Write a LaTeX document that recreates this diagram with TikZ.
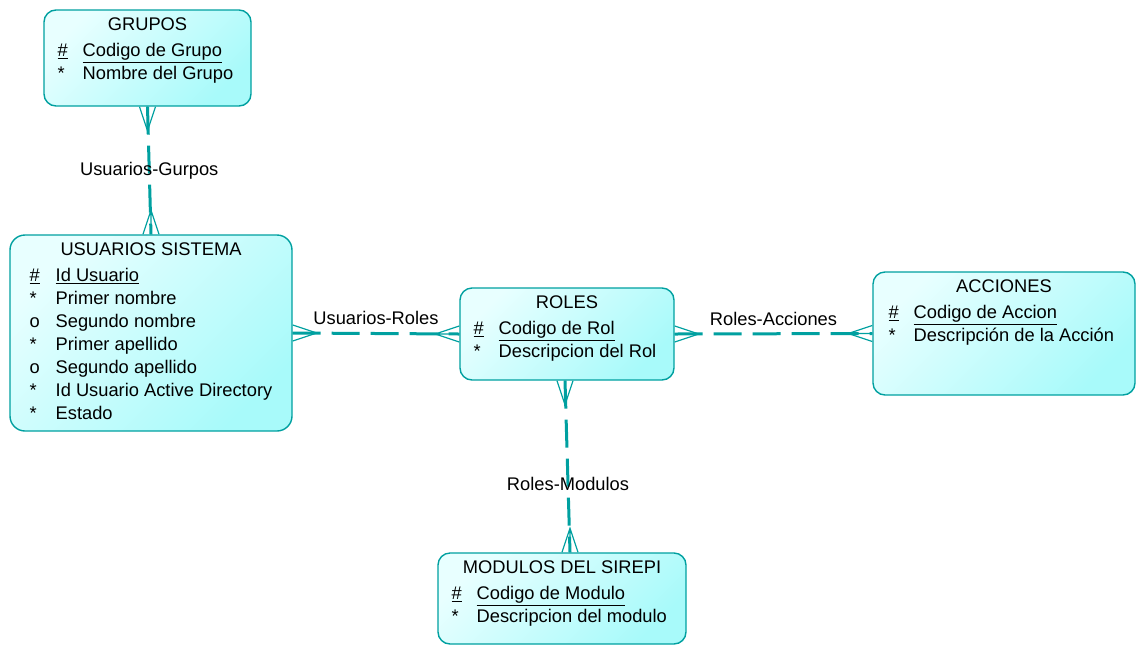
\documentclass[tikz,border=0pt]{standalone}
\usepackage{fontspec}
\setmainfont{Liberation Sans}
\usetikzlibrary{positioning}
\definecolor{erdline}{RGB}{0,160,160}
\definecolor{boxlight}{RGB}{232,255,255}
\definecolor{boxdark}{RGB}{168,250,250}
\newcommand{\entfont}{\fontsize{18.3pt}{23pt}\selectfont}
\tikzset{
    entity/.style={rectangle, rounded corners=12pt, draw=erdline, line width=1.4pt, top color=boxlight, bottom color=boxdark, shading angle=45},
    enttitle/.style={inner sep=0pt},
    attrs/.style={inner sep=0pt, align=left},
    relation/.style={draw=erdline, line width=3pt, dash pattern=on 28pt off 11pt},
    rellabel/.style={inner sep=1pt},
    crowfoot/.pic={\draw[erdline, line width=1.2pt] (-8pt,0pt) -- (0pt,-24pt) -- (8pt,0pt) (0pt,0pt) -- (0pt,-24pt);}
}

\begin{document}
\begin{tikzpicture}
  [
    x                   = 1pt,
    y                   = -1pt,
    every node/.style   = {font=\entfont},
  ]
  \useasboundingbox (0,0) rectangle (1137,646);

  \node [entity, minimum width=207pt, minimum height=96pt] (grupos) at (147.5,58) {};
  \node [enttitle, below=8pt of grupos.north] (grupos-title) {GRUPOS};
  \node [attrs, below right=31pt and 14pt of grupos.north west] (grupos-attrs)
    {\begin{tabular}{@{}l@{\hspace{15pt}}l@{}}
       \underline{\#} & \underline{Codigo de Grupo} \\
       {*} & Nombre del Grupo
     \end{tabular}};

  \node [entity, rounded corners=15pt, minimum width=282pt, minimum height=196pt] (usuarios) at (151,333) {};
  \node [enttitle, below=8pt of usuarios.north] (usuarios-title) {USUARIOS SISTEMA};
  \node [attrs, below right=31pt and 20pt of usuarios.north west] (usuarios-attrs)
    {\begin{tabular}{@{}l@{\hspace{16pt}}l@{}}
       \underline{\#} & \underline{Id Usuario} \\
       {*} & Primer nombre \\
       o & Segundo nombre \\
       {*} & Primer apellido \\
       o & Segundo apellido \\
       {*} & Id Usuario Active Directory \\
       {*} & Estado
     \end{tabular}};

  \node [entity, minimum width=214pt, minimum height=92pt] (roles) at (567,334) {};
  \node [enttitle, below=8pt of roles.north] (roles-title) {ROLES};
  \node [attrs, below right=31pt and 14pt of roles.north west] (roles-attrs)
    {\begin{tabular}{@{}l@{\hspace{15pt}}l@{}}
       \underline{\#} & \underline{Codigo de Rol} \\
       {*} & Descripcion del Rol
     \end{tabular}};

  \node [entity, minimum width=262pt, minimum height=123pt] (acciones) at (1004,333.5) {};
  \node [enttitle, below=8pt of acciones.north] (acciones-title) {ACCIONES};
  \node [attrs, below right=31pt and 16pt of acciones.north west] (acciones-attrs)
    {\begin{tabular}{@{}l@{\hspace{15pt}}l@{}}
       \underline{\#} & \underline{Codigo de Accion} \\
       {*} & Descripción de la Acción
     \end{tabular}};

  \node [entity, minimum width=248pt, minimum height=91pt] (modulos) at (562,598.5) {};
  \node [enttitle, below=8pt of modulos.north] (modulos-title) {MODULOS DEL SIREPI};
  \node [attrs, below right=31pt and 14pt of modulos.north west] (modulos-attrs)
    {\begin{tabular}{@{}l@{\hspace{15pt}}l@{}}
       \underline{\#} & \underline{Codigo de Modulo} \\
       {*} & Descripcion del modulo
     \end{tabular}};

  % relaciones
  \draw [relation] (grupos.south) -- node [rellabel] {Usuarios-Gurpos} (usuarios.north);
  \pic at (grupos.south) {crowfoot};
  \pic [rotate=180] at (usuarios.north) {crowfoot};

  \draw [relation] (usuarios.east) -- node [rellabel, above=6pt] {Usuarios-Roles} (roles.west);
  \pic [rotate=90] at (usuarios.east) {crowfoot};
  \pic [rotate=-90] at (roles.west) {crowfoot};

  \draw [relation] (roles.east) -- node [rellabel, above=6pt] {Roles-Acciones} (acciones.west);
  \pic [rotate=90] at (roles.east) {crowfoot};
  \pic [rotate=-90] at (acciones.west) {crowfoot};

  \draw [relation] ([xshift=-2pt]roles.south) -- node [rellabel, pos=0.6] {Roles-Modulos} ([xshift=8pt]modulos.north);
  \pic at ([xshift=-2pt]roles.south) {crowfoot};
  \pic [rotate=180] at ([xshift=8pt]modulos.north) {crowfoot};
\end{tikzpicture}
\end{document}
